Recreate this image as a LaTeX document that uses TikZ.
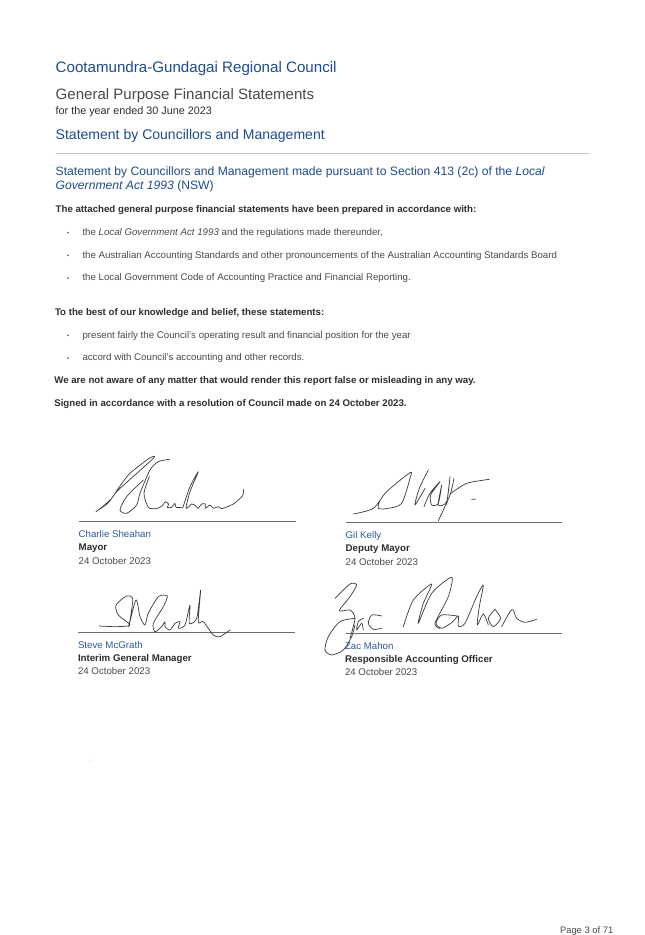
\documentclass[tikz,border=0pt]{standalone}
\usepackage{fontspec}
\setmainfont{Liberation Sans}
\definecolor{hblue}{HTML}{1F4B8E}
\definecolor{nblue}{HTML}{2F5A9A}
\definecolor{body}{HTML}{4A4A4A}
\definecolor{strong}{HTML}{2E2E2E}
\definecolor{ink}{HTML}{3A3A40}
\tikzset{
 txt/.style={anchor=base west,inner sep=0pt,outer sep=0pt,font=\fontsize{9.7}{11}\selectfont,text=body},
 bold/.style={txt,font=\fontsize{9.68}{11}\selectfont\bfseries,text=strong},
 htitle/.style={txt,font=\fontsize{15.13}{18}\selectfont,text=hblue},
 hsub/.style={txt,font=\fontsize{14.03}{16}\selectfont,text=hblue},
 hsec/.style={txt,font=\fontsize{12.15}{14}\selectfont,text=hblue},
 gtitle/.style={txt,font=\fontsize{15.05}{17}\selectfont,text=body},
 nm/.style={txt,font=\fontsize{9.7}{11}\selectfont,text=nblue},
 role/.style={txt,font=\fontsize{9.7}{11}\selectfont\bfseries,text=strong},
 dt/.style={txt,font=\fontsize{9.7}{11}\selectfont,text=body},
 sigline/.style={draw=gray!85!black,line width=.7pt},
 pen/.style={draw=ink,line width=.7pt,line cap=round,line join=round},
 crop/.style={x=0.3333pt,y=-0.3333pt},
}
\newcommand{\bul}[3]{\node[txt] (#1) at (82.5,#2) {#3}; \fill[body] (68,#2-2.8) circle (.85);}
\begin{document}
\begin{tikzpicture}[x=1pt,y=-1pt]
\useasboundingbox (0,0) rectangle (645,935);
\fill[white] (0,0) rectangle (645,935);
\node[htitle] (t1) at (55.7,72.5) {Cootamundra-Gundagai Regional Council};
\node[gtitle] (t2) at (55.7,99) {General Purpose Financial Statements};
\node[txt,font=\fontsize{10.8}{12}\selectfont,text=strong] (t3) at (55.7,114) {for the year ended 30 June 2023};
\node[hsub] (t4) at (55.7,139.3) {Statement by Councillors and Management};
\draw[gray!45,line width=.8pt] (55.7,153) -- (589.5,153);
\node[hsec] (t5) at (55.7,175.3) {Statement by Councillors and Management made pursuant to Section 413 (2c) of the \textit{Local}};
\node[hsec] (t6) at (55.7,189.5) {\textit{Government Act 1993} (NSW)};
\node[bold] (b1) at (55.7,212.7) {The attached general purpose financial statements have been prepared in accordance with:};
\bul{l1}{235.5}{the \textit{Local Government Act 1993} and the regulations made thereunder,}
\bul{l2}{258}{the Australian Accounting Standards and other pronouncements of the Australian Accounting Standards Board}
\bul{l3}{280.7}{the Local Government Code of Accounting Practice and Financial Reporting.}
\node[bold] (b2) at (55,315.3) {To the best of our knowledge and belief, these statements:};
\bul{l4}{338}{present fairly the Council's operating result and financial position for the year}
\bul{l5}{360.7}{accord with Council's accounting and other records.}
\node[bold] (b3) at (54.3,383.3) {We are not aware of any matter that would render this report false or misleading in any way.};
\node[bold] (b4) at (54.3,406) {Signed in accordance with a resolution of Council made on 24 October 2023.};
% signature lines
\draw[sigline] (79,521) -- (296,521);
\draw[sigline] (78,632) -- (295,632);
\draw[sigline] (346,522) -- (562,522);
\draw[sigline] (346,633) -- (562,633);
\node[nm] (n1) at (78.7,537) {Charlie Sheahan};
\node[role] (r1) at (78.7,550) {Mayor};
\node[dt] (d1) at (78.7,564) {24 October 2023};
\node[nm] (n2) at (78,648) {Steve McGrath};
\node[role] (r2) at (78,661) {Interim General Manager};
\node[dt] (d2) at (78,674) {24 October 2023};
\node[nm] (n3) at (345.7,538) {Gil Kelly};
\node[role] (r3) at (345.7,551) {Deputy Mayor};
\node[dt] (d3) at (345.7,565) {24 October 2023};
\node[nm] (n4) at (345,649) {Zac Mahon};
\node[role] (r4) at (345,662) {Responsible Accounting Officer};
\node[dt] (d4) at (345,675) {24 October 2023};
% Sheahan signature
\begin{scope}[shift={(90,430)},crop]
\draw[pen] plot[smooth,tension=.45] coordinates {(18,245)(55,218)(85,180)(190,85)(178,85)(120,130)(85,175)(65,205)(40,228)(18,245)};
\draw[pen] plot[smooth,tension=.45] coordinates {(238,88)(205,95)(180,120)(150,190)(140,225)(110,250)(90,240)(110,200)(160,150)};
\draw[pen] plot[smooth,tension=.45] coordinates {(178,140)(162,190)(175,232)(200,236)(218,226)(226,215)(236,222)(232,232)(245,232)(255,220)(258,232)(275,232)};
\draw[pen] plot[smooth,tension=.45] coordinates {(278,235)(300,170)(325,125)(300,185)(288,235)(305,222)(318,228)(324,235)(335,222)(346,222)(346,235)(360,225)(370,235)(385,230)(395,236)(430,222)(458,197)(460,178)};
\end{scope}
% McGrath signature
\begin{scope}[shift={(30,490)},crop]
\draw[pen] plot[smooth,tension=.45] coordinates {(208,408)(260,410)(300,405)(265,375)(258,345)(290,318)(308,325)(302,380)(296,410)(318,330)(330,380)(345,405)(355,370)(385,320)(412,318)(400,350)(370,400)(375,425)(395,410)(405,395)(405,410)(420,420)(435,400)(450,395)(445,415)(465,405)(480,345)(478,400)(500,385)(512,300)(505,395)(520,395)(550,435)(570,440)(600,420)};
\end{scope}
% Kelly signature
\begin{scope}[shift={(330,430)},crop]
\draw[pen] plot[smooth,tension=.45] coordinates {(70,252)(130,235)(170,185)(240,128)(240,145)(215,220)(175,235)(145,235)(150,210)};
\draw[pen] plot[smooth,tension=.45] coordinates {(295,120)(268,175)(255,225)(285,175)};
\draw[pen] plot[smooth,tension=.45] coordinates {(282,230)(300,190)(330,155)(302,195)(305,225)(325,220)(335,165)(325,225)(350,215)(360,140)(350,225)};
\draw[pen] plot[smooth,tension=.45] coordinates {(372,145)(360,195)(325,272)};
\draw[pen] plot[smooth,tension=.45] coordinates {(360,192)(410,160)(478,148)};
\draw[pen] (425,208) -- (437,207);
\end{scope}
% Mahon signature
\begin{scope}[shift={(300,490)},crop]
\draw[pen] plot[smooth,tension=.45] coordinates {(105,325)(150,282)(170,285)(150,320)(118,362)(150,360)(165,385)(150,445)};
\draw[pen] plot[smooth,tension=.45] coordinates {(165,385)(120,395)(85,440)(75,480)(95,495)(130,480)(155,440)(165,405)};
\draw[pen] plot[smooth,tension=.45] coordinates {(190,385)(175,395)(170,420)(185,400)(190,420)};
\draw[pen] plot[smooth,tension=.45] coordinates {(245,378)(215,375)(205,400)(220,418)(245,415)};
\draw[pen] plot[smooth,tension=.45] coordinates {(310,410)(340,330)(395,282)(370,340)(355,400)(395,310)(455,262)(445,320)(405,400)(420,415)};
\draw[pen] plot[smooth,tension=.45] coordinates {(472,378)(425,375)(408,400)(425,415)(455,398)(475,378)(475,408)(495,400)(530,320)(550,285)(538,350)(532,405)(550,372)(565,405)};
\draw[pen] plot[smooth,tension=.45] coordinates {(585,358)(565,385)(580,410)(602,385)(585,358)};
\draw[pen] plot[smooth,tension=.45] coordinates {(605,410)(630,365)(640,360)(650,385)(675,397)(710,388)};
\end{scope}
\fill[gray!70] (90,760) circle (.5);
\node[txt,font=\fontsize{9.4}{11}\selectfont] (pg) at (560,933) {Page 3 of 71};
\end{tikzpicture}
\end{document}
